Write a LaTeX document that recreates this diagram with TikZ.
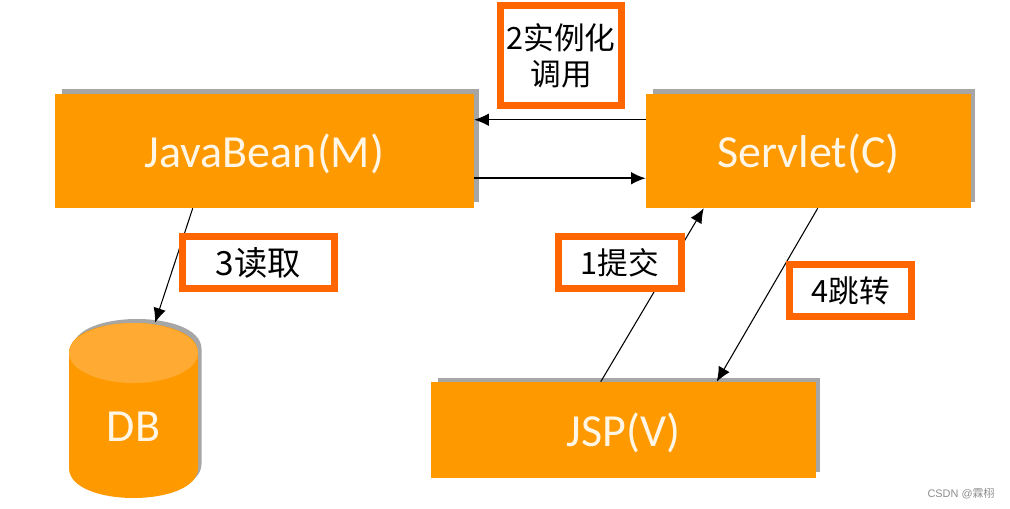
\documentclass[tikz,border=0pt]{standalone}
\usepackage{fontspec}
\setmainfont{Carlito}
\newfontfamily\cjk{Noto Sans CJK SC}
\newfontfamily\wm{Liberation Sans}
\usetikzlibrary{arrows.meta,calc}
\definecolor{org}{HTML}{FF9900}
\definecolor{orgtop}{HTML}{FFAB33}
\definecolor{shade}{HTML}{A6A6A6}
\definecolor{frame}{HTML}{FF6600}
\definecolor{cream}{HTML}{FFF6E6}
\tikzset{
  x=0.75pt,y=-0.75pt,
  boxnode/.style={rectangle,fill=org,inner sep=0pt,text=cream,font=\fontsize{34.5}{35}\selectfont},
  shadebox/.style={fill=shade},
  tag/.style={rectangle,draw=frame,line width=5.25pt,fill=white,inner sep=0pt,align=center,text=black,font=\fontsize{23}{27}\selectfont\cjk},
  arr/.style={-{Latex[length=11pt,width=9.5pt]},line width=0.8pt,black},
}
\newlength{\pxu}\setlength{\pxu}{0.75pt}
\newcommand{\cylpath}{(69,353) .. controls (69,313) and (198,313) .. (198,353)
  -- (198,468) .. controls (198,508) and (69,508) .. (69,468) -- cycle}
\newcommand{\lowered}[1]{\raisebox{-2.5pt}[\height][\depth]{#1}}
\begin{document}
\begin{tikzpicture}
\useasboundingbox (0,0) rectangle (1010,509);
% shadows
\fill[shadebox] (62,89) rectangle (479,202);
\fill[shadebox] (653,89) rectangle (975,202);
\fill[shadebox] (438,378) rectangle (820,472);
\fill[shadebox,shift={(3.5,-4)}] \cylpath;
% boxes
\node[boxnode,minimum width=419*\pxu,minimum height=114*\pxu] (bean) at (264.5,151) {\lowered{JavaBean(M)}};
\node[boxnode,minimum width=325*\pxu,minimum height=114*\pxu] (servlet) at (808.5,151) {\lowered{Servlet(C)}};
\node[boxnode,minimum width=385*\pxu,minimum height=96*\pxu] (jsp) at (623.5,430) {\lowered{JSP(V)}};
% database
\fill[org] \cylpath;
\fill[orgtop] (133.5,353) ellipse[x radius=64.5,y radius=30];
\node[rectangle,inner sep=0pt,minimum width=129*\pxu,minimum height=110*\pxu,text=cream,font=\fontsize{34.5}{35}\selectfont] (db) at (133.5,427) {DB};
% connectors
\draw[arr] ([yshift=-26*\pxu]servlet.north west) -- ([yshift=-26*\pxu]bean.north east);
\draw[arr,line width=1.3pt] ([yshift=30*\pxu]bean.south east) -- ([yshift=30*\pxu]servlet.south west);
\draw[arr] ([xshift=138*\pxu]bean.south west) -- ([xshift=21.5*\pxu,yshift=49*\pxu]db.north);
\draw[arr] ([xshift=170*\pxu]jsp.north west) -- ([xshift=58*\pxu]servlet.south west);
\draw[arr] ([xshift=172*\pxu]servlet.south west) -- ([xshift=286*\pxu]jsp.north west);
% labels
\node[tag,minimum width=121*\pxu,minimum height=100*\pxu] (t2) at (561,55.5) {2实例化\\调用};
\node[tag,minimum width=152*\pxu,minimum height=52*\pxu,font=\fontsize{25}{27}\selectfont\cjk] (t3) at (258.5,262.5) {3读取};
\node[tag,minimum width=123*\pxu,minimum height=52*\pxu] (t1) at (620,262.5) {1提交};
\node[tag,minimum width=122*\pxu,minimum height=52*\pxu] (t4) at (850.5,291) {4跳转};
\node[inner sep=0pt,text=black!45,font=\fontsize{8.2}{10}\selectfont\wm] (mark) at (961,494) {CSDN @{\cjk 霖栩}};
\end{tikzpicture}
\end{document}
